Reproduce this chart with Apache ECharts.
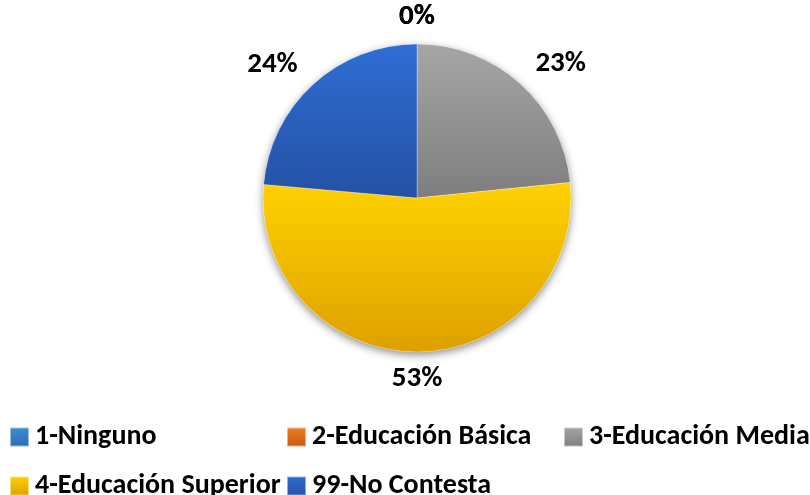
<!DOCTYPE html>
<html>
<head>
<meta charset="utf-8">
<script src="https://cdn.jsdelivr.net/npm/echarts@6/dist/echarts.min.js"></script>
<style>
  html, body { margin: 0; padding: 0; background: #fff; }
  #main { width: 810px; height: 495px; }
</style>
</head>
<body>
<div id="main"></div>
<script>
// categorias y valores (porcentaje)
var categorias = ['1-Ninguno', '2-Educación Básica', '3-Educación Media', '4-Educación Superior', '99-No Contesta'];
var valores = [0, 0, 23.4, 53.0, 23.6];
// colores degradados: [arriba, abajo]
var colores = [
  ['#3E8ED8', '#2E6BB0'],
  ['#F57D22', '#C45A12'],
  ['#A6A6A6', '#7E7E7E'],
  ['#FFD200', '#DDA000'],
  ['#2F6DD5', '#2451A3']
];

var fuente = "Calibri, 'Liberation Sans', Arial, sans-serif";

function degradado(c) {
  return new echarts.graphic.LinearGradient(0, 0, 0, 1, [
    { offset: 0, color: c[0] },
    { offset: 1, color: c[1] }
  ]);
}

var datos = [];
for (var i = 0; i < categorias.length; i++) {
  datos.push({ name: categorias[i], value: valores[i], itemStyle: { color: degradado(colores[i]) } });
}

// leyenda: una por elemento (dos filas)
var posLeyenda = [[9, 423], [286, 423], [563, 423], [9, 472], [286, 472]];
var leyendas = [];
for (var j = 0; j < categorias.length; j++) {
  leyendas.push({
    data: [categorias[j]],
    left: posLeyenda[j][0],
    top: posLeyenda[j][1],
    padding: 0,
    icon: 'rect',
    itemWidth: 19,
    itemHeight: 19,
    selectedMode: false,
    textStyle: {
      fontFamily: fuente,
      fontWeight: 'bold',
      fontSize: 28,
      lineHeight: 28,
      color: '#000',
      padding: [0, 0, 0, 1]
    }
  });
}

var chart = echarts.init(document.getElementById('main'));
chart.setOption({
  animation: false,
  legend: leyendas,
  series: [
    {
      // sombra del circulo
      type: 'pie',
      name: 'sombra',
      silent: true,
      center: [417, 198],
      radius: 154,
      z: 1,
      label: { show: false },
      labelLine: { show: false },
      itemStyle: {
        color: '#fff',
        shadowBlur: 9,
        shadowColor: 'rgba(0,0,0,0.45)',
        shadowOffsetY: 3
      },
      data: [{ name: 'sombra', value: 1 }]
    },
    {
      type: 'pie',
      name: 'Educación',
      center: [417, 198],
      radius: 154,
      startAngle: 90,
      clockwise: true,
      z: 2,
      avoidLabelOverlap: false,
      itemStyle: { borderWidth: 0.6, borderColor: 'rgba(255,255,255,0.5)' },
      label: {
        show: true,
        position: 'outside',
        distanceToLabelLine: -3,
        formatter: function (p) { return Math.round(p.percent) + '%'; },
        fontFamily: fuente,
        fontWeight: 'bold',
        fontSize: 29,
        color: '#000'
      },
      labelLine: { show: false, length: 27, length2: 0 },
      labelLayout: function (p) {
        // etiquetas de arriba y abajo centradas
        if (p.dataIndex === 0 || p.dataIndex === 1 || p.dataIndex === 3) {
          return { x: p.rect.x + p.rect.width / 2, align: 'center' };
        }
        return {};
      },
      data: datos
    }
  ]
});
</script>
</body>
</html>
